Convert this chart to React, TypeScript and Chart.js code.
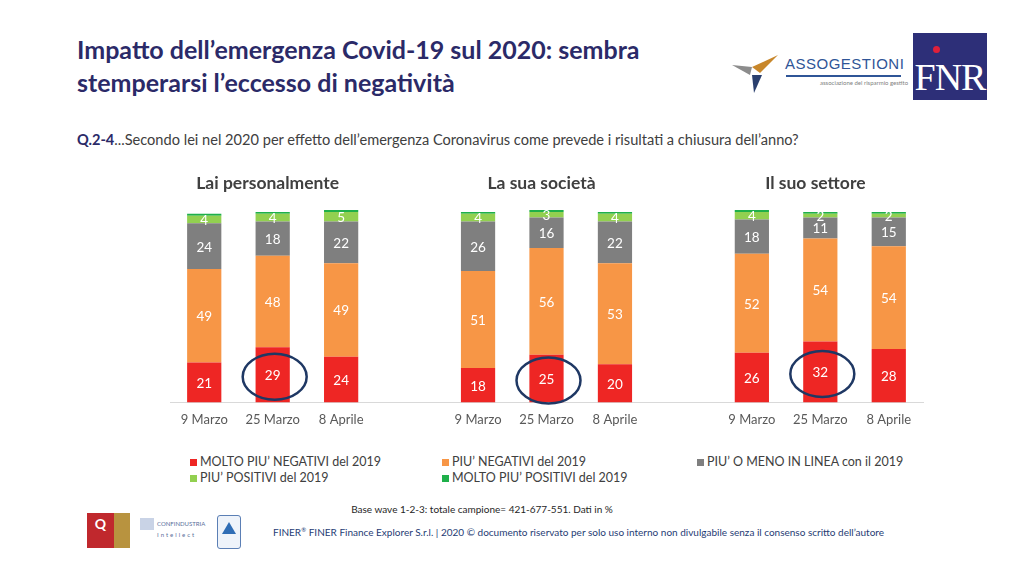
import React, { useEffect, useRef } from "react";
import { Chart, registerables } from "chart.js";

Chart.register(...registerables);

// ---------- data ----------
const categories = [
  "9 Marzo", "25 Marzo", "8 Aprile", "",
  "9 Marzo", "25 Marzo", "8 Aprile", "",
  "9 Marzo", "25 Marzo", "8 Aprile",
];
const groupTitles = ["Lai personalmente", "La sua società", "Il suo settore"];
const seriesNames = [
  "MOLTO PIU’ NEGATIVI del 2019",
  "PIU’ NEGATIVI del 2019",
  "PIU’ O MENO IN LINEA con il 2019",
  "PIU’ POSITIVI del 2019",
  "MOLTO PIU’ POSITIVI del 2019",
];
const seriesColors = ["#ee2624", "#f79646", "#7f7f7f", "#92d050", "#1fb04a"];
const moltoNegativi = [21, 29, 24, null, 18, 25, 20, null, 26, 32, 28];
const negativi = [49, 48, 49, null, 51, 56, 53, null, 52, 54, 54];
const inLinea = [24, 18, 22, null, 26, 16, 22, null, 18, 11, 15];
const positivi = [4, 4, 5, null, 4, 3, 4, null, 4, 2, 2];
const moltoPositivi = [1, 1, 1, null, 1, 1, 1, null, 1, 1, 1];
const labelledSeries = [0, 1, 2, 3];
const highlighted = [1, 5, 9];

const FONT = "Lato, 'Open Sans', sans-serif";

const overlayPlugin = {
  id: "overlay",
  afterDatasetsDraw(chart: any) {
    const ctx = chart.ctx;
    ctx.save();
    ctx.textAlign = "center";
    ctx.textBaseline = "middle";
    // segment labels
    chart.data.datasets.forEach((ds: any, di: number) => {
      if (!labelledSeries.includes(di)) return;
      const meta = chart.getDatasetMeta(di);
      meta.data.forEach((el: any, i: number) => {
        const v = ds.data[i];
        if (v == null) return;
        const p = el.getProps(["x", "y", "base"], true);
        ctx.fillStyle = "#ffffff";
        ctx.font = `13.5px ${FONT}`;
        ctx.fillText(String(v), p.x, (p.y + p.base) / 2 + 1);
      });
    });
    // highlight ellipses
    const red = chart.getDatasetMeta(0);
    highlighted.forEach((i) => {
      const el = red.data[i];
      const p = el.getProps(["x", "y", "base"], true);
      const cy = (p.y + p.base) / 2 + 2;
      ctx.beginPath();
      ctx.ellipse(p.x + 2, cy, 32, 23, 0, 0, Math.PI * 2);
      ctx.strokeStyle = "#1f3864";
      ctx.lineWidth = 2.5;
      ctx.stroke();
    });
    // group titles
    const xs = chart.scales.x;
    groupTitles.forEach((t, g) => {
      const cx = xs.getPixelForValue(g * 4 + 1);
      ctx.fillStyle = "#404040";
      ctx.font = `bold 17.5px ${FONT}`;
      ctx.fillText(t, cx - 5, chart.chartArea.top - 27);
    });
    ctx.restore();
  },
};

function BarChart() {
  const ref = useRef<HTMLCanvasElement | null>(null);
  useEffect(() => {
    if (!ref.current) return;
    const series = [moltoNegativi, negativi, inLinea, positivi, moltoPositivi];
    const chart = new Chart(ref.current, {
      type: "bar",
      data: {
        labels: categories,
        datasets: series.map((d, i) => ({
          label: seriesNames[i],
          data: d,
          backgroundColor: seriesColors[i],
          borderWidth: 0,
          barPercentage: 1,
          categoryPercentage: 0.5,
        })),
      },
      options: {
        animation: false,
        responsive: false,
        maintainAspectRatio: false,
        layout: { padding: { left: 170, right: 101, top: 60, bottom: 2 } },
        plugins: {
          legend: { display: false },
          tooltip: { enabled: false },
          title: { display: false },
        },
        scales: {
          x: {
            stacked: true,
            grid: { display: false, drawTicks: false },
            border: { display: true, color: "#d9d9d9", width: 1 },
            ticks: {
              color: "#595959",
              font: { family: FONT, size: 13 },
              padding: 10,
              maxRotation: 0,
              autoSkip: false,
            },
          },
          y: {
            stacked: true,
            display: false,
            min: 0,
            max: 101,
          },
        },
      },
      plugins: [overlayPlugin],
    });
    return () => chart.destroy();
  }, []);
  return (
    <canvas
      ref={ref}
      width={1024}
      height={290}
      style={{ position: "absolute", left: 0, top: 150, width: 1024, height: 290 }}
    />
  );
}

export default function App() {
  const legendCols = [190, 442, 697];
  const legendRows = [462, 478];
  return (
    <div
      style={{
        position: "absolute",
        left: 0,
        top: 0,
        width: 1024,
        height: 577,
        background: "#ffffff",
        overflow: "hidden",
        fontFamily: FONT,
      }}
    >
      {/* title */}
      <div
        style={{
          position: "absolute",
          left: 77,
          top: 33,
          fontSize: 25,
          lineHeight: "33px",
          fontWeight: 700,
          color: "#2b2a68",
          whiteSpace: "nowrap",
        }}
      >
        Impatto dell’emergenza Covid-19 sul 2020: sembra
        <br />
        stemperarsi l’eccesso di negatività
      </div>

      {/* Assogestioni logo */}
      <svg
        style={{ position: "absolute", left: 730, top: 45 }}
        width={50}
        height={50}
        viewBox="0 0 50 50"
      >
        <polygon points="22,22 48,10 30,28" fill="#c8872b" />
        <polygon points="22,22 2,20 20,30" fill="#8c8c8c" />
        <polygon points="22,30 32,30 24,48" fill="#2a3f6e" />
      </svg>
      <div
        style={{
          position: "absolute",
          left: 785,
          top: 55,
          fontSize: 15,
          color: "#2f5597",
          letterSpacing: 0.5,
          fontFamily: "'Liberation Sans', sans-serif",
        }}
      >
        ASSOGESTIONI
      </div>
      <div
        style={{ position: "absolute", left: 786, top: 75, width: 115, height: 2, background: "#2f5597" }}
      />
      <div
        style={{ position: "absolute", left: 820, top: 79, fontSize: 6, color: "#7f7f7f", whiteSpace: "nowrap" }}
      >
        associazione del risparmio gestito
      </div>
      {/* FNR logo */}
      <div
        style={{
          position: "absolute",
          left: 913,
          top: 33,
          width: 74,
          height: 67,
          background: "#2d2f78",
        }}
      >
        <div
          style={{
            position: "absolute",
            left: 20,
            top: 13,
            width: 7,
            height: 7,
            borderRadius: "50%",
            background: "#e0203a",
          }}
        />
        <div
          style={{
            position: "absolute",
            left: 0,
            top: 24,
            width: 74,
            textAlign: "center",
            color: "#ffffff",
            fontFamily: "'Liberation Serif', serif",
            fontSize: 38,
            lineHeight: "40px",
            letterSpacing: -1,
          }}
        >
          FNR
        </div>
      </div>

      {/* question */}
      <div
        style={{
          position: "absolute",
          left: 77,
          top: 131,
          fontSize: 14.6,
          color: "#404040",
          whiteSpace: "nowrap",
        }}
      >
        <span style={{ fontWeight: 700, color: "#2b2a68" }}>Q.2-4</span>
        ...Secondo lei nel 2020 per effetto dell’emergenza Coronavirus come prevede i risultati a chiusura dell’anno?
      </div>

      <BarChart />

      {/* legend */}
      {seriesNames.map((name, i) => (
        <div
          key={name}
          style={{
            position: "absolute",
            left: legendCols[i % 3],
            top: legendRows[Math.floor(i / 3)] - 8,
            fontSize: 12.5,
            lineHeight: "16px",
            color: "#404040",
            whiteSpace: "nowrap",
            display: "flex",
            alignItems: "center",
          }}
        >
          <span
            style={{
              display: "inline-block",
              width: 7,
              height: 7,
              background: seriesColors[i],
              marginRight: 3,
            }}
          />
          {name}
        </div>
      ))}

      {/* footer */}
      <div
        style={{
          position: "absolute",
          left: 0,
          width: 1024,
          top: 503,
          textAlign: "center",
          fontSize: 10,
          color: "#262626",
          paddingRight: 60,
          boxSizing: "border-box",
        }}
      >
        Base wave 1-2-3: totale campione= 421-677-551. Dati in %
      </div>
      <div
        style={{
          position: "absolute",
          left: 273,
          top: 526,
          fontSize: 10,
          color: "#1f3c74",
          whiteSpace: "nowrap",
        }}
      >
        FINER<sup style={{ fontSize: 6 }}>®</sup> FINER Finance Explorer S.r.l. | 2020 © documento riservato per solo uso interno non divulgabile senza il consenso scritto dell’autore
      </div>
      {/* footer logos */}
      <div style={{ position: "absolute", left: 87, top: 513, width: 27, height: 35, background: "#c0282d" }}>
        <div style={{ color: "#fff", fontSize: 14, fontWeight: 700, textAlign: "center", marginTop: 2 }}>Q</div>
      </div>
      <div style={{ position: "absolute", left: 114, top: 513, width: 16, height: 35, background: "#b8933f" }} />
      <div
        style={{
          position: "absolute",
          left: 140,
          top: 518,
          fontSize: 6,
          color: "#5a6f9a",
          lineHeight: "9px",
          whiteSpace: "nowrap",
        }}
      >
        <span style={{ display: "inline-block", width: 14, height: 12, background: "#c9d3e6", marginRight: 3, verticalAlign: "middle" }} />
        CONFINDUSTRIA
        <br />
        <span style={{ marginLeft: 17, letterSpacing: 2 }}>Intellect</span>
      </div>
      <div
        style={{
          position: "absolute",
          left: 217,
          top: 515,
          width: 22,
          height: 32,
          border: "1px solid #5b7fb5",
          borderRadius: 3,
          background: "#eef3fa",
        }}
      >
        <div
          style={{
            margin: "6px auto 0",
            width: 0,
            height: 0,
            borderLeft: "7px solid transparent",
            borderRight: "7px solid transparent",
            borderBottom: "12px solid #2f6db5",
          }}
        />
      </div>
    </div>
  );
}
